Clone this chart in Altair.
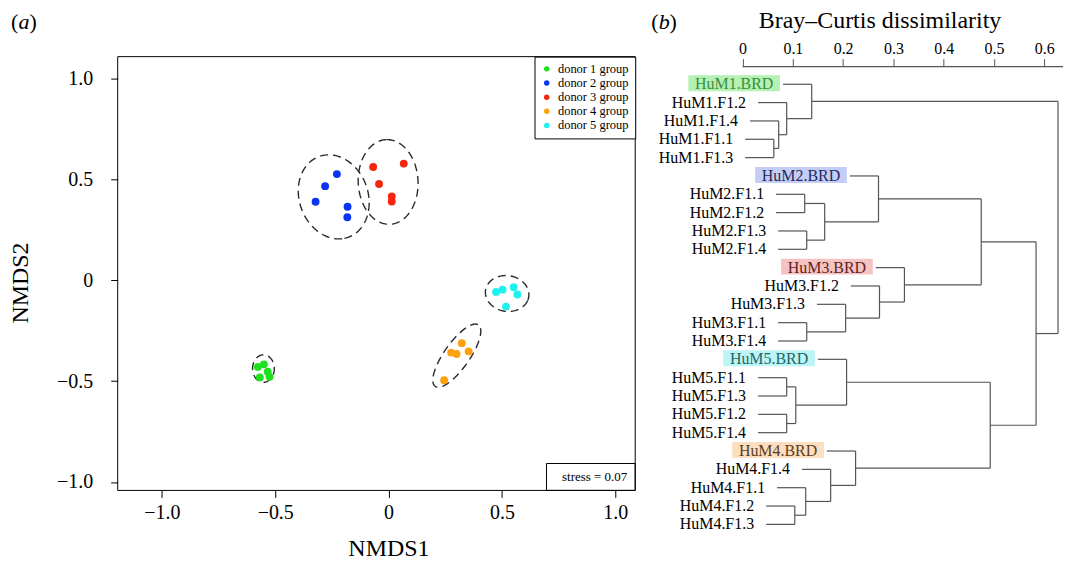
import altair as alt
import pandas as pd
import numpy as np

FONT = "Liberation Serif"

# ---------------- panel (a): NMDS ----------------
groups = ["donor 1 group", "donor 2 group", "donor 3 group", "donor 4 group", "donor 5 group"]
colors = ["#1fe01f", "#0a34f2", "#f5260f", "#ffa10d", "#1ff0f0"]

d1_x = [-0.550, -0.577, -0.533, -0.568, -0.525]
d1_y = [-0.417, -0.430, -0.454, -0.482, -0.479]
d2_x = [-0.228, -0.280, -0.322, -0.181, -0.182]
d2_y = [0.526, 0.466, 0.389, 0.364, 0.312]
d3_x = [-0.068, 0.067, -0.042, 0.014, 0.014]
d3_y = [0.561, 0.578, 0.477, 0.415, 0.390]
d4_x = [0.323, 0.276, 0.300, 0.353, 0.245]
d4_y = [-0.312, -0.359, -0.366, -0.353, -0.496]
d5_x = [0.474, 0.503, 0.552, 0.568, 0.518]
d5_y = [-0.058, -0.047, -0.035, -0.071, -0.131]

# dispersion ellipses: centre, semi-axes, rotation (degrees)
ell_cx = [-0.552, -0.242, -0.002, 0.301, 0.523]
ell_cy = [-0.438, 0.413, 0.487, -0.374, -0.066]
ell_a = [0.068, 0.211, 0.210, 0.180, 0.097]
ell_b = [0.048, 0.153, 0.132, 0.058, 0.088]
ell_ang = [90, -77, 92, 58.7, -20]

stress_text = "stress = 0.07"

pts = []
for g, xs_, ys_ in zip(groups, [d1_x, d2_x, d3_x, d4_x, d5_x], [d1_y, d2_y, d3_y, d4_y, d5_y]):
    for a, b in zip(xs_, ys_):
        pts.append({"group": g, "x": a, "y": b})
pts = pd.DataFrame(pts)

t = np.linspace(0, 2 * np.pi, 121)
ell_rows = []
for g, cx, cy, a, b, ang in zip(groups, ell_cx, ell_cy, ell_a, ell_b, ell_ang):
    th = np.deg2rad(ang)
    for k, tt in enumerate(t):
        ell_rows.append({
            "group": g, "k": k,
            "x": cx + a * np.cos(th) * np.cos(tt) - b * np.sin(th) * np.sin(tt),
            "y": cy + a * np.sin(th) * np.cos(tt) + b * np.cos(th) * np.sin(tt),
        })
ell = pd.DataFrame(ell_rows)

W1, H1 = 519, 435
xsc = alt.Scale(domain=[-1.195, 1.088], nice=False, zero=False)
ysc = alt.Scale(domain=[-1.042, 1.108], nice=False, zero=False)
lab0 = "datum.value == 0 ? '0' : format(datum.value, '.1f')"

xax = alt.Axis(values=[-1, -0.5, 0, 0.5, 1], labelExpr=lab0, title="NMDS1", grid=False, domain=False,
               tickSize=7, tickColor="black", labelFont=FONT, labelFontSize=20, labelColor="black",
               labelPadding=5, titleFont=FONT, titleFontSize=24, titleFontWeight="normal",
               titleColor="black", titlePadding=14, titleX=271.5)
yax = alt.Axis(values=[-1, -0.5, 0, 0.5, 1], labelExpr=lab0, title="NMDS2", grid=False, domain=False,
               tickSize=7, tickColor="black", labelFont=FONT, labelFontSize=20, labelColor="black",
               labelPadding=18, titleFont=FONT, titleFontSize=24, titleFontWeight="normal",
               titleColor="black", titlePadding=24, titleY=226.5)

ellipses = alt.Chart(ell).mark_line(color="#2a2a2a", strokeWidth=1.4, strokeDash=[8, 5]).encode(
    x=alt.X("x:Q", scale=xsc, axis=xax),
    y=alt.Y("y:Q", scale=ysc, axis=yax),
    detail="group:N",
    order="k:Q",
)

points = alt.Chart(pts).mark_circle(size=62, opacity=1).encode(
    x=alt.X("x:Q", scale=xsc),
    y=alt.Y("y:Q", scale=ysc),
    color=alt.Color("group:N", scale=alt.Scale(domain=groups, range=colors),
                    legend=alt.Legend(title=None, orient="top-right", offset=0, strokeColor="black",
                                      fillColor="white", padding=6, labelFont=FONT, labelFontSize=12.5,
                                      labelColor="black", symbolType="circle", symbolSize=30,
                                      symbolStrokeWidth=0, rowPadding=1.2, labelOffset=5)),
)

one = pd.DataFrame({"v": [0]})
frame = alt.Chart(one).mark_rect(fillOpacity=0, stroke="black", strokeWidth=1).encode(
    x=alt.value(0), x2=alt.value(W1), y=alt.value(0), y2=alt.value(H1))
stress_box = alt.Chart(one).mark_rect(fill="white", stroke="black", strokeWidth=1).encode(
    x=alt.value(W1 - 89), x2=alt.value(W1), y=alt.value(H1 - 27), y2=alt.value(H1))
stress = alt.Chart(one).mark_text(align="right", baseline="middle", font=FONT, fontSize=13,
                                  color="black").encode(
    x=alt.value(W1 - 8), y=alt.value(H1 - 13.5), text=alt.value(stress_text))


def panel_tag(letter, x0, y0):
    p1 = alt.Chart(one).mark_text(align="left", baseline="middle", font=FONT, fontSize=22,
                                  color="black").encode(x=alt.value(x0), y=alt.value(y0),
                                                        text=alt.value("("))
    p2 = alt.Chart(one).mark_text(align="left", baseline="middle", font=FONT, fontSize=22,
                                  fontStyle="italic", color="black").encode(
        x=alt.value(x0 + 7.5), y=alt.value(y0), text=alt.value(letter))
    p3 = alt.Chart(one).mark_text(align="left", baseline="middle", font=FONT, fontSize=22,
                                  color="black").encode(x=alt.value(x0 + 18.5), y=alt.value(y0),
                                                        text=alt.value(")"))
    return [p1, p2, p3]


left = alt.layer(ellipses, points, stress_box, stress, frame, *panel_tag("a", -107, -35)).properties(
    width=W1, height=H1)

# ---------------- panel (b): dendrogram ----------------
leaf_labels = ["HuM1.BRD", "HuM1.F1.2", "HuM1.F1.4", "HuM1.F1.1", "HuM1.F1.3",
               "HuM2.BRD", "HuM2.F1.1", "HuM2.F1.2", "HuM2.F1.3", "HuM2.F1.4",
               "HuM3.BRD", "HuM3.F1.2", "HuM3.F1.3", "HuM3.F1.1", "HuM3.F1.4",
               "HuM5.BRD", "HuM5.F1.1", "HuM5.F1.3", "HuM5.F1.2", "HuM5.F1.4",
               "HuM4.BRD", "HuM4.F1.4", "HuM4.F1.1", "HuM4.F1.2", "HuM4.F1.3"]
# hclust-style merges: negative = leaf (1-based), positive = earlier merge (1-based)
merge_a = [-4, -3, -2, -1, -7, -9, 5, -6, -14, -13, -12, -11, 8, -17, -19, 14, -16, -24, -23, -22, -21, 17, 13, 4]
merge_b = [-5, 1, 2, 3, -8, -10, 6, 7, -15, 9, 10, 11, 12, -18, -20, 15, 16, -25, 18, 19, 20, 21, 22, 23]
merge_h = [0.0621, 0.0718, 0.0877, 0.1375, 0.1236, 0.1276, 0.1633, 0.2704, 0.1276, 0.2050, 0.2724,
           0.3220, 0.4748, 0.0877, 0.0877, 0.1058, 0.2069, 0.1038, 0.1256, 0.1752, 0.2248, 0.4927,
           0.5839, 0.6276]
HANG = 0.057
brd_box = {"HuM1.BRD": "#b5f0b5", "HuM2.BRD": "#c5cdf6", "HuM3.BRD": "#f6c3c3",
           "HuM5.BRD": "#bdf4f6", "HuM4.BRD": "#fbdfc0"}
brd_text = {"HuM1.BRD": "#3a8f3a", "HuM2.BRD": "#1f2b5e", "HuM3.BRD": "#5e1f1f",
            "HuM5.BRD": "#1d6767", "HuM4.BRD": "#5e3d1d"}
tick_vals = [0, 0.1, 0.2, 0.3, 0.4, 0.5, 0.6]

segs = []
mpos = {}
leaf_start = [0.0] * len(leaf_labels)
for k, (a, b, h) in enumerate(zip(merge_a, merge_b, merge_h), start=1):
    yy = []
    for c in (a, b):
        if c < 0:
            i = -c - 1
            x0, y = h - HANG, i
            leaf_start[i] = x0
        else:
            x0, y = mpos[c]
        segs.append({"x": x0, "x2": h, "y": y, "y2": y})
        yy.append(y)
    segs.append({"x": h, "x2": h, "y": yy[0], "y2": yy[1]})
    mpos[k] = (h, (yy[0] + yy[1]) / 2)
segs = pd.DataFrame(segs)

leaves = pd.DataFrame({"label": leaf_labels, "idx": list(range(len(leaf_labels))), "start": leaf_start})
leaves["brd"] = leaves["label"].isin(list(brd_box))
leaves["box"] = leaves["label"].map(brd_box)
leaves["tcol"] = leaves["label"].map(brd_text)
plain = leaves[~leaves["brd"]]
brd = leaves[leaves["brd"]]

W2, H2 = 414, 480
dmin, dmax = -0.1839, 0.6375
x2s = alt.Scale(domain=[dmin, dmax], nice=False, zero=False)
y2s = alt.Scale(domain=[-1.506, 24.595], nice=False, zero=False, reverse=True)

dax = alt.Axis(orient="top", values=tick_vals, labelExpr=lab0, domain=False, grid=False, tickSize=8,
               tickColor="#555555", labelFont=FONT, labelFontSize=16, labelColor="black", labelPadding=2,
               offset=-10, title="Bray\u2013Curtis dissimilarity", titleFont=FONT, titleFontSize=24,
               titleFontWeight="normal", titleColor="black", titlePadding=8, titleX=230)

tree = alt.Chart(segs).mark_rule(color="#555555", strokeWidth=1.2).encode(
    x=alt.X("x:Q", scale=x2s, axis=dax), x2="x2:Q",
    y=alt.Y("y:Q", scale=y2s, axis=None), y2="y2:Q",
)
axis_line = alt.Chart(pd.DataFrame({"x": [0.0], "x2": [dmax]})).mark_rule(
    color="#555555", strokeWidth=1.2).encode(x=alt.X("x:Q", scale=x2s), x2="x2:Q", y=alt.value(10))

plain_text = alt.Chart(plain).mark_text(align="right", baseline="middle", dx=-12, font=FONT,
                                        fontSize=16, color="black").encode(
    x=alt.X("start:Q", scale=x2s), y=alt.Y("idx:Q", scale=y2s), text="label:N")
brd_rect = alt.Chart(brd).mark_rect(xOffset=-95, x2Offset=-3, yOffset=-9, y2Offset=7).encode(
    x=alt.X("start:Q", scale=x2s), x2="start:Q", y=alt.Y("idx:Q", scale=y2s), y2="idx:Q",
    fill=alt.Fill("box:N", scale=None))
brd_txt = alt.Chart(brd).mark_text(align="center", baseline="middle", dx=-49, font=FONT,
                                   fontSize=16).encode(
    x=alt.X("start:Q", scale=x2s), y=alt.Y("idx:Q", scale=y2s), text="label:N",
    fill=alt.Fill("tcol:N", scale=None))

right = alt.layer(tree, axis_line, plain_text, brd_rect, brd_txt, *panel_tag("b", 1, -35)).properties(
    width=W2, height=H2)

chart = alt.hconcat(left, right, spacing=14).resolve_legend(color="independent").properties(
    padding={"left": 0, "top": 0, "right": 0, "bottom": 0}
).configure_view(strokeWidth=0)

chart.save("out.html", embed_options={"renderer": "svg", "actions": False})
